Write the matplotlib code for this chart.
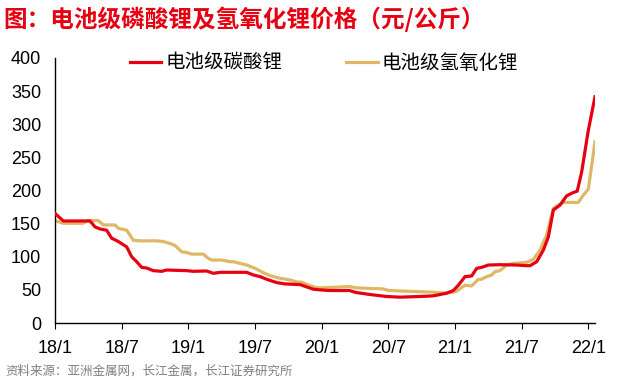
import numpy as np
import matplotlib.pyplot as plt

plt.rcParams['font.family'] = ['Liberation Sans', 'Noto Sans CJK SC', 'DejaVu Sans']

# months since 2018-01
m_co3 = [0, 0.75, 3.15, 3.6, 4.05, 4.65, 5.1, 5.7, 6.15, 6.45, 6.9, 7.35, 7.8, 8.25, 8.85,
         9.6, 10.05, 11.85, 12.45, 13.65, 14.25, 14.85, 17.25, 17.85, 18.45, 19.05, 19.95,
         20.7, 22.05, 23.25, 23.85, 24.75, 26.5, 27.1, 28.35, 29.85, 31.05, 32.85, 34.05,
         35.25, 35.85, 36.3, 36.9, 37.5, 37.95, 38.4, 39.0, 40.05, 41.55, 42.45, 42.75,
         43.35, 43.95, 44.4, 44.85, 45.45, 46.05, 46.65, 47.0, 47.4, 48.0, 48.6]
v_co3 = [165.5, 154, 154, 145, 142, 140, 128, 123, 118, 115, 100, 92.5, 84, 83, 79,
         78, 80, 79, 78, 78.5, 75, 76.5, 76.5, 72.5, 70, 66, 61,
         59, 58, 51, 50, 49, 49, 46, 43, 40, 39, 40, 41,
         45, 49, 57, 70, 71, 82.5, 84, 87.5, 88, 87.5, 86.5, 86.5,
         92.5, 110, 130, 170.5, 178, 192, 197, 199, 228, 291, 341.5]

m_oh = [0, 0.75, 2.55, 2.9, 3.9, 4.35, 5.4, 5.7, 6.45, 7.05, 7.65, 9.15, 9.75, 10.35,
        10.8, 11.4, 11.85, 12.3, 13.35, 13.8, 14.1, 15, 15.75, 16.05, 16.65, 17.25, 18,
        18.75, 19.35, 20.25, 21.15, 21.75, 22.2, 22.8, 23.4, 23.85, 26.5, 27.1, 29.5,
        30.1, 34, 35.2, 36.1, 36.9, 37.5, 38.1, 38.4, 38.85, 39.3, 39.6, 40.05, 40.65,
        41.25, 42.45, 43.05, 43.65, 44.25, 44.85, 45.3, 45.75, 47.1, 47.55, 48, 48.6]
v_oh = [154.5, 150.5, 150.5, 154.5, 154.5, 148, 148, 143, 140, 125, 124, 124, 123, 120,
        117, 107.5, 106.5, 104, 104, 97.5, 95, 95, 92.5, 92.5, 90, 87.5, 82.5,
        76, 71.5, 67.5, 65, 62, 61.5, 57.5, 54, 53, 55, 53, 51.5,
        49, 46.5, 45, 47.5, 57, 56, 66, 66, 70, 72.5, 77.5, 79, 87.5,
        90, 91.5, 96, 110, 133, 173, 178, 182, 182, 193, 202, 273.5]

tick_pos = [0, 6, 12, 18, 24, 30, 36, 42, 48]
tick_lab = ['18/1', '18/7', '19/1', '19/7', '20/1', '20/7', '21/1', '21/7', '22/1']

red = '#E60012'
tan = '#E0B865'

fig = plt.figure(figsize=(6.27, 3.81), dpi=100)
ax = fig.add_axes([55 / 627, 1 - 323 / 381, 540 / 627, 265 / 381])

ax.plot(m_co3, v_co3, color=red, lw=2.3, label='电池级碳酸锂', zorder=3)
ax.plot(m_oh, v_oh, color=tan, lw=2.3, label='电池级氢氧化锂', zorder=2)

ax.set_xlim(0, 48.6)
ax.set_ylim(0, 400)
ax.set_yticks(range(0, 401, 50))
ax.set_xticks(tick_pos)
ax.set_xticklabels(tick_lab)
ax.tick_params(axis='y', length=0, labelsize=13, pad=10)
ax.tick_params(axis='x', length=4, direction='out', labelsize=13, pad=8)
for s in ['top', 'right']:
    ax.spines[s].set_visible(False)
for s in ['left', 'bottom']:
    ax.spines[s].set_linewidth(1.0)

leg = ax.legend(loc='upper left', bbox_to_anchor=(0.125, 1.05), ncol=2, frameon=False,
                prop={'family': 'Noto Sans CJK SC', 'size': 14}, handlelength=1.6,
                columnspacing=3.3, handletextpad=0.2, borderaxespad=0)

fig.text(0.005, 0.95, '图：电池级磷酸锂及氢氧化锂价格（元/公斤）', color=red,
         fontsize=17, fontweight='bold', family='Noto Sans CJK SC', va='center')
fig.text(0.008, 0.027, '资料来源：亚洲金属网，长江金属，长江证券研究所', color='#808080',
         fontsize=9, family='Noto Sans CJK SC', va='center')

fig.savefig('out.png', dpi=100)
